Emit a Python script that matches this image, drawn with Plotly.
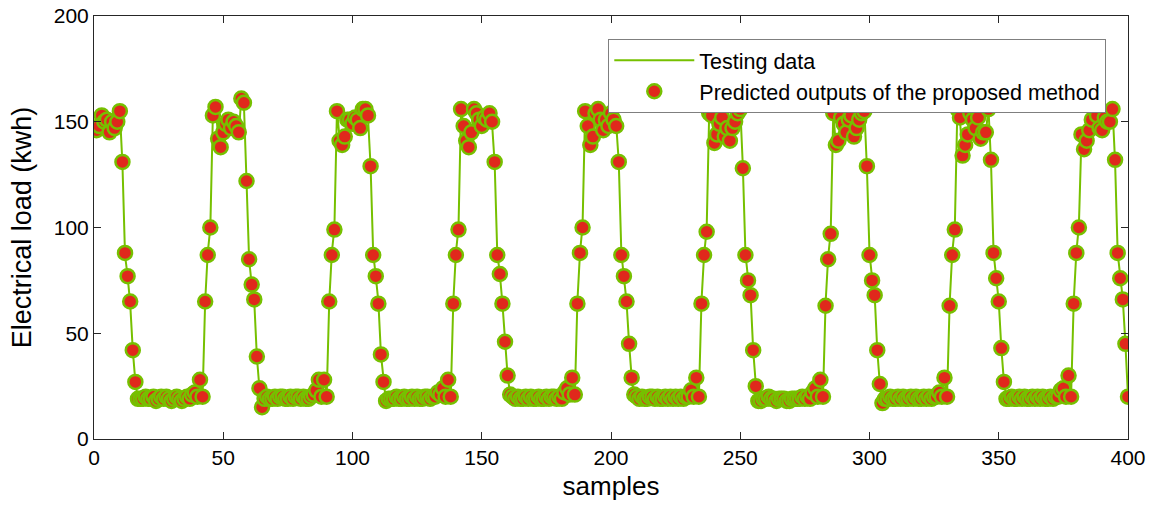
import plotly.graph_objects as go

# ---------------- data ----------------
# Testing data, per day (48 samples per day), samples 1..400
test_day0 = [147, 146, 154, 153, 150, 146, 149, 145, 152, 155,
             130, 87, 77, 64, 42, 27, 19,
             20, 18, 20, 19, 20, 19, 18, 20, 19, 20, 19, 18, 19, 20, 18, 19, 20, 19, 19, 20, 21, 23, 20,
             29, 20, 65, 88, 100, 154, 158, 143]
test_day1 = [137, 146, 148, 150, 145, 151, 149, 144, 162, 158,
             122, 85, 73, 65, 39, 24, 14,
             20, 19, 18, 20, 19, 20, 20, 19, 18, 20, 19, 20, 20, 19, 20, 19, 20, 18, 20, 20, 22, 24, 20,
             29, 20, 65, 88, 100, 156, 142, 138]
test_day2 = [144, 152, 150, 148, 153, 150, 146, 157, 155, 152,
             129, 88, 77, 65, 40, 27, 17,
             19, 20, 18, 20, 19, 20, 19, 18, 20, 19, 20, 19, 20, 18, 20, 19, 20, 20, 19, 21, 20, 23, 20,
             29, 20, 65, 88, 100, 157, 147, 140]
test_day3 = [137, 144, 157, 155, 152, 147, 153, 150, 155, 149,
             130, 88, 78, 64, 46, 30, 21,
             19, 20, 19, 18, 20, 19, 20, 19, 18, 20, 19, 20, 18, 19, 20, 21, 19, 20, 19, 20, 21, 23, 20,
             29, 20, 65, 88, 101, 156, 149, 138]
test_day4 = [142, 155, 157, 150, 145, 152, 147, 155, 150, 149,
             131, 88, 77, 65, 45, 29, 20,
             19, 20, 19, 20, 18, 20, 19, 20, 19, 18, 20, 19, 20, 19, 18, 19, 20, 19, 20, 21, 19, 22, 20,
             29, 20, 65, 87, 99, 155, 152, 141]
test_day5 = [145, 150, 153, 142, 148, 140, 146, 151, 155, 157,
             129, 88, 76, 68, 42, 26, 17,
             19, 20, 18, 19, 20, 18, 17, 19, 20, 18, 19, 17, 18, 19, 20, 18, 19, 20, 19, 20, 21, 23, 19,
             29, 20, 64, 86, 98, 155, 138, 140]
test_day6 = [153, 148, 144, 150, 154, 142, 146, 152, 155, 156,
             128, 88, 76, 68, 42, 26, 17,
             18, 20, 19, 18, 20, 19, 20, 19, 18, 20, 19, 20, 19, 18, 20, 19, 20, 19, 20, 21, 19, 23, 20,
             29, 20, 64, 88, 100, 157, 151, 133]
test_day7 = [138, 145, 155, 150, 148, 153, 141, 146, 144, 157,
             131, 88, 77, 65, 43, 27, 19,
             20, 19, 18, 20, 19, 20, 19, 20, 18, 19, 20, 19, 20, 19, 20, 18, 20, 19, 20, 21, 22, 24, 20,
             30, 21, 65, 88, 101, 143, 136, 140]
test_day8 = [147, 150, 157, 152, 148, 145, 153, 151, 149, 157,
             131, 88, 76, 66, 45, 20]

# Predicted outputs of the proposed method, per day
pred_day0 = [146, 148, 153, 150, 151, 145, 150, 147, 150, 155,
             131, 88, 77, 65, 42, 27, 19,
             19, 19, 20, 19, 19, 20, 18, 19, 20, 19, 20, 19, 18, 19, 20, 19, 18, 19, 20, 19, 21, 22, 20,
             28, 20, 65, 87, 100, 153, 157, 142]
pred_day1 = [138, 145, 149, 151, 147, 150, 148, 145, 161, 159,
             122, 85, 73, 66, 39, 24, 15,
             19, 20, 19, 19, 20, 19, 20, 20, 19, 19, 20, 19, 20, 20, 19, 20, 19, 19, 20, 21, 23, 28, 20,
             28, 20, 65, 87, 99, 155, 141, 139]
pred_day2 = [143, 151, 151, 149, 152, 151, 147, 156, 156, 153,
             129, 87, 77, 64, 40, 27, 18,
             19, 19, 19, 20, 19, 19, 20, 19, 19, 20, 19, 20, 19, 19, 20, 20, 19, 20, 20, 22, 21, 24, 20,
             28, 20, 64, 87, 99, 156, 148, 141]
pred_day3 = [138, 145, 156, 154, 151, 148, 152, 151, 154, 150,
             131, 87, 78, 64, 46, 30, 21,
             20, 19, 20, 19, 19, 20, 19, 20, 19, 19, 20, 19, 19, 20, 19, 20, 20, 19, 20, 19, 22, 24, 21,
             29, 21, 64, 88, 100, 155, 148, 139]
pred_day4 = [143, 154, 156, 151, 146, 151, 148, 154, 151, 148,
             131, 87, 77, 65, 45, 29, 21,
             20, 19, 20, 19, 19, 20, 20, 19, 20, 19, 19, 20, 19, 20, 19, 20, 19, 20, 19, 20, 20, 23, 20,
             29, 20, 64, 87, 98, 154, 153, 140]
pred_day5 = [144, 149, 152, 143, 147, 141, 147, 150, 154, 156,
             128, 87, 75, 68, 42, 25, 18,
             18, 19, 19, 20, 19, 19, 18, 19, 19, 19, 18, 18, 19, 19, 19, 19, 20, 19, 20, 19, 22, 24, 20,
             28, 20, 63, 85, 97, 154, 139, 141]
pred_day6 = [152, 149, 145, 151, 153, 143, 147, 151, 154, 155,
             129, 87, 75, 68, 42, 26, 17,
             19, 19, 20, 19, 19, 20, 19, 20, 19, 19, 20, 19, 20, 19, 19, 20, 19, 20, 19, 20, 20, 22, 20,
             29, 20, 63, 87, 99, 156, 152, 134]
pred_day7 = [139, 144, 154, 151, 147, 152, 142, 145, 145, 156,
             132, 88, 76, 65, 43, 27, 19,
             19, 20, 19, 19, 20, 19, 20, 19, 19, 20, 19, 20, 19, 20, 19, 19, 20, 19, 20, 20, 23, 24, 20,
             30, 20, 64, 88, 100, 144, 137, 141]
pred_day8 = [146, 151, 156, 153, 147, 146, 152, 150, 150, 156,
             132, 88, 76, 66, 45, 20]

x_ticks = [0, 50, 100, 150, 200, 250, 300, 350, 400]
y_ticks = [0, 50, 100, 150, 200]

testing = (test_day0 + test_day1 + test_day2 + test_day3 + test_day4 +
           test_day5 + test_day6 + test_day7 + test_day8)
predicted = (pred_day0 + pred_day1 + pred_day2 + pred_day3 + pred_day4 +
             pred_day5 + pred_day6 + pred_day7 + pred_day8)
samples = list(range(1, len(testing) + 1))

GREEN = "#76c000"
RED = "#e0281c"
AXIS = "#262626"
FONT = "Arial, Liberation Sans, Helvetica, sans-serif"

fig = go.Figure()
fig.add_trace(go.Scatter(
    x=samples, y=testing, mode="lines", name="Testing data",
    line=dict(color=GREEN, width=2),
))
fig.add_trace(go.Scatter(
    x=samples, y=predicted, mode="markers",
    name="Predicted outputs of the proposed method",
    marker=dict(size=14, color=RED, line=dict(color=GREEN, width=2.5)),
))

axis_common = dict(
    showgrid=False, zeroline=False, showline=True, linecolor=AXIS, linewidth=1,
    mirror="ticks", ticks="inside", ticklen=7, tickcolor=AXIS, tickwidth=1,
    tickfont=dict(family=FONT, size=21, color="#000000"),
    automargin=False,
)

fig.update_layout(
    width=1153, height=515,
    margin=dict(l=94, r=25, t=16, b=76),
    paper_bgcolor="white", plot_bgcolor="white",
    font=dict(family=FONT, color="#000000"),
    xaxis=dict(range=[0, 400], tickvals=x_ticks,
               title=dict(text="samples", font=dict(family=FONT, size=26), standoff=8),
               **axis_common),
    yaxis=dict(range=[0, 200], tickvals=y_ticks,
               title=dict(text="Electrical load (kwh)", font=dict(family=FONT, size=27), standoff=14),
               **axis_common),
    legend=dict(
        x=0.979, y=0.946, xanchor="right", yanchor="top",
        bgcolor="white", bordercolor="#7f7f7f", borderwidth=1,
        font=dict(family=FONT, size=21.5, color="#000000"),
        itemwidth=80, tracegroupgap=2,
    ),
    showlegend=True,
)

# remove the default 8px page margin so the figure sits at the window's corner
fig.write_html("out.html",
               config={"displayModeBar": False},
               post_script="document.body.style.margin='0';")
